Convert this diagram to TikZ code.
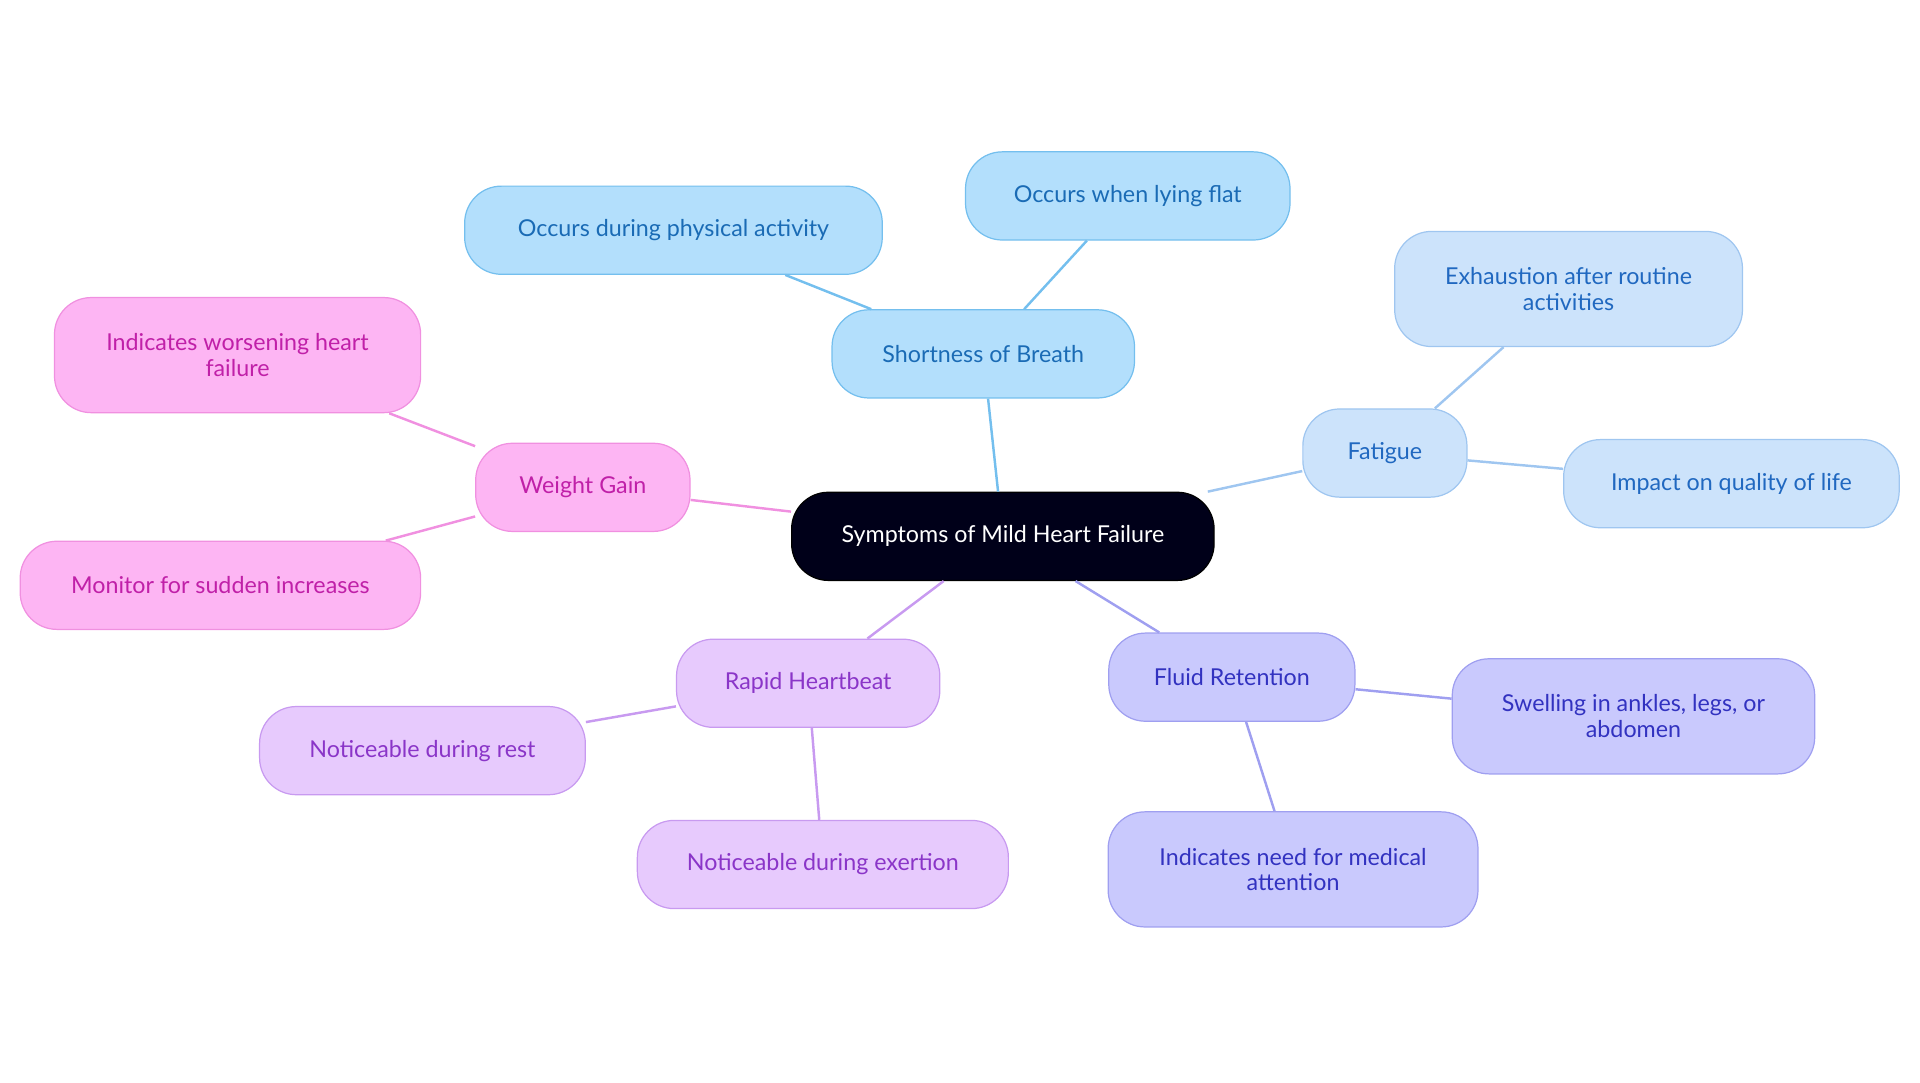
\documentclass[tikz,border=0pt]{standalone}
\usepackage{fontspec}
\setmainfont{Lato}
\begin{document}
\begin{tikzpicture}[x=1pt,y=-1pt,
  base/.style={rounded corners=30pt,draw,line width=1pt,font=\fontsize{19}{21}\selectfont,align=center,inner sep=0pt},
  blue/.style={base,fill=blue1,draw=blue1d,text=blue1t},
  lblue/.style={base,fill=blue2,draw=blue2d,text=blue2t},
  viol/.style={base,fill=vio,draw=viod,text=viot},
  purp/.style={base,fill=pur,draw=purd,text=purt},
  pink/.style={base,fill=pin,draw=pind,text=pint},
  ln/.style={line width=2pt}]
\definecolor{blue1}{HTML}{B3DFFC}\definecolor{blue1d}{HTML}{74BFEE}\definecolor{blue1t}{HTML}{1A6BB5}
\definecolor{blue2}{HTML}{CCE3FB}\definecolor{blue2d}{HTML}{9FC6F0}\definecolor{blue2t}{HTML}{2068C0}
\definecolor{vio}{HTML}{C9C9FD}\definecolor{viod}{HTML}{9F9FF0}\definecolor{viot}{HTML}{3232C0}
\definecolor{pur}{HTML}{E7CAFD}\definecolor{purd}{HTML}{C89AF0}\definecolor{purt}{HTML}{8A35C8}
\definecolor{pin}{HTML}{FDB5F3}\definecolor{pind}{HTML}{F090E0}\definecolor{pint}{HTML}{C020A8}
\useasboundingbox (0,0) rectangle (1568,884);
\newcommand{\nd}[7]{\node[#1,minimum width=#4pt,minimum height=#5pt] (#6) at (#2,#3) {#7};}
\nd{base,fill=black!90!blue,draw=black,text=white}{819}{438}{345}{72}{c}{Symptoms of Mild Heart Failure}
\nd{blue}{803}{289}{247}{72}{sob}{Shortness of Breath}
\nd{blue}{550}{188}{341}{72}{sob1}{Occurs during physical activity}
\nd{blue}{921}{160}{265}{72}{sob2}{Occurs when lying flat}
\nd{lblue}{1131}{370}{134}{72}{fa}{Fatigue}
\nd{lblue}{1281}{236}{284}{94}{fa1}{Exhaustion after routine\\activities}
\nd{lblue}{1414}{395}{274}{72}{fa2}{Impact on quality of life}
\nd{viol}{1006}{553}{201}{72}{fr}{Fluid Retention}
\nd{viol}{1334}{585}{296}{94}{fr1}{Swelling in ankles, legs, or\\abdomen}
\nd{viol}{1056}{710}{302}{94}{fr2}{Indicates need for medical\\attention}
\nd{purp}{660}{558}{215}{72}{rh}{Rapid Heartbeat}
\nd{purp}{345}{613}{266}{72}{rh1}{Noticeable during rest}
\nd{purp}{672}{706}{303}{72}{rh2}{Noticeable during exertion}
\nd{pink}{476}{398}{175}{72}{wg}{Weight Gain}
\nd{pink}{194}{290}{299}{94}{wg1}{Indicates worsening heart\\failure}
\nd{pink}{180}{478}{327}{72}{wg2}{Monitor for sudden increases}
\begin{scope}[on background layer/.style={}]
\end{scope}
\begin{pgfonlayer}{main}\end{pgfonlayer}
\draw[ln,blue1d] (c) -- (sob) (sob) -- (sob1) (sob) -- (sob2);
\draw[ln,blue2d] (c) -- (fa) (fa) -- (fa1) (fa) -- (fa2);
\draw[ln,viod] (c) -- (fr) (fr) -- (fr1) (fr) -- (fr2);
\draw[ln,purd] (c) -- (rh) (rh) -- (rh1) (rh) -- (rh2);
\draw[ln,pind] (c) -- (wg) (wg) -- (wg1) (wg) -- (wg2);
\end{tikzpicture}
\end{document}
